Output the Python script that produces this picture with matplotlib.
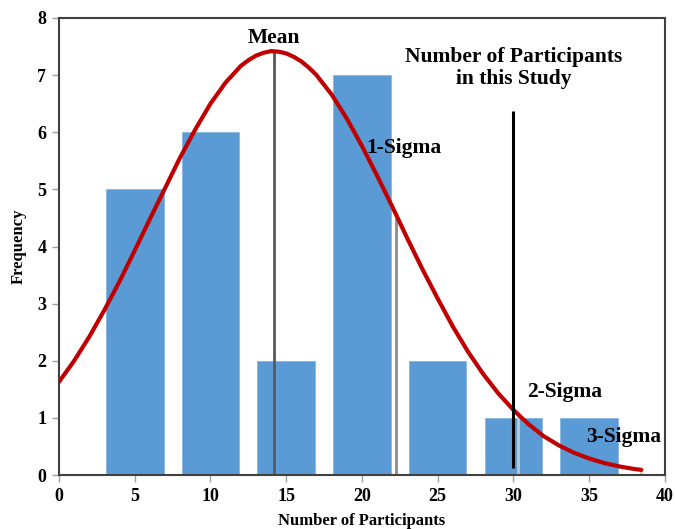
import numpy as np
import matplotlib
matplotlib.use('Agg')
import matplotlib.pyplot as plt

# histogram of participants per study
bin_centers = [5, 10, 15, 20, 25, 30, 35]
frequency   = [5, 6, 2, 7, 2, 1, 1]

# fitted normal curve
curve_x = [0, 1, 2, 3, 4, 5, 6, 7, 8, 9, 10, 11, 12, 12.5, 13, 13.5, 14, 14.5, 15, 15.5,
           16, 16.5, 17, 18, 19, 20, 21, 22, 23, 24, 25, 26, 27, 28, 29, 30, 31, 32, 33,
           34, 35, 36, 37, 38, 38.45]
curve_y = [1.63, 2.00, 2.42, 2.89, 3.39, 3.93, 4.48, 5.02, 5.56, 6.05, 6.50, 6.87, 7.16,
           7.26, 7.34, 7.39, 7.42, 7.41, 7.38, 7.32, 7.24, 7.13, 7.00, 6.66, 6.24, 5.76,
           5.24, 4.70, 4.14, 3.60, 3.09, 2.60, 2.16, 1.77, 1.43, 1.14, 0.89, 0.68, 0.52,
           0.39, 0.29, 0.21, 0.15, 0.105, 0.09]

# marker lines: x position, top of line
mean_x, mean_top = 14.2, 7.42
sig1_x, sig1_top = 22.24, 4.5
sig2_x, sig2_top = 30.3, 1.02
sig3_x, sig3_top = 38.45, 0.09
study_x, study_lo, study_hi = 30.0, 0.12, 6.38

plt.rcParams['font.family'] = ['Liberation Serif', 'DejaVu Serif']
plt.rcParams['font.weight'] = 'bold'

fig = plt.figure(figsize=(6.75, 5.29), dpi=100)
ax = fig.add_axes([0.0874, 0.102, 0.8976, 0.864])

ax.bar(bin_centers, frequency, width=3.8, color='#5B9BD5', edgecolor='#7FB0DE',
       linewidth=0.5, zorder=1)

ax.vlines(mean_x, 0, mean_top, color='#595959', lw=2, zorder=2)
ax.vlines(sig1_x, 0, sig1_top, color='#8C8C8C', lw=2, zorder=2)
ax.vlines(sig2_x, 0, sig2_top, color='#C8C8C8', lw=2, zorder=2)
ax.vlines(sig3_x, 0, sig3_top, color='#D0D0D0', lw=2, zorder=2)
ax.vlines(study_x, study_lo, study_hi, color='black', lw=2.2, zorder=4)

ax.plot(curve_x, curve_y, color='#C00000', lw=3, zorder=3, solid_capstyle='round',
        solid_joinstyle='round')

fs = 15.5
ax.text(14.2, 7.65, 'Mean', ha='center', va='center', fontsize=fs, fontweight='bold')
ax.text(20.3, 5.73, '1-Sigma', ha='left', va='center', fontsize=fs, fontweight='bold', zorder=5)
ax.text(30.0, 7.13, 'Number of Participants\nin this Study', ha='center', va='center',
        fontsize=fs, fontweight='bold', linespacing=1.15)
ax.text(30.9, 1.45, '2-Sigma', ha='left', va='center', fontsize=fs, fontweight='bold')
ax.text(34.8, 0.66, '3-Sigma', ha='left', va='center', fontsize=fs, fontweight='bold', zorder=5)

ax.set_xlim(0, 40)
ax.set_ylim(0, 8)
ax.set_xticks(range(0, 41, 5))
ax.set_yticks(range(0, 9))
ax.tick_params(direction='out', length=5, width=1, color='#A0A0A0', labelsize=13, pad=4)
for lab in ax.get_xticklabels() + ax.get_yticklabels():
    lab.set_fontweight('bold')
for sp in ax.spines.values():
    sp.set_color('#404040')
    sp.set_linewidth(1.5)

ax.set_xlabel('Number of Participants', fontsize=12, fontweight='bold', labelpad=6)
ax.set_ylabel('Frequency', fontsize=12, fontweight='bold', labelpad=8)

fig.savefig('out.png', dpi=100)
